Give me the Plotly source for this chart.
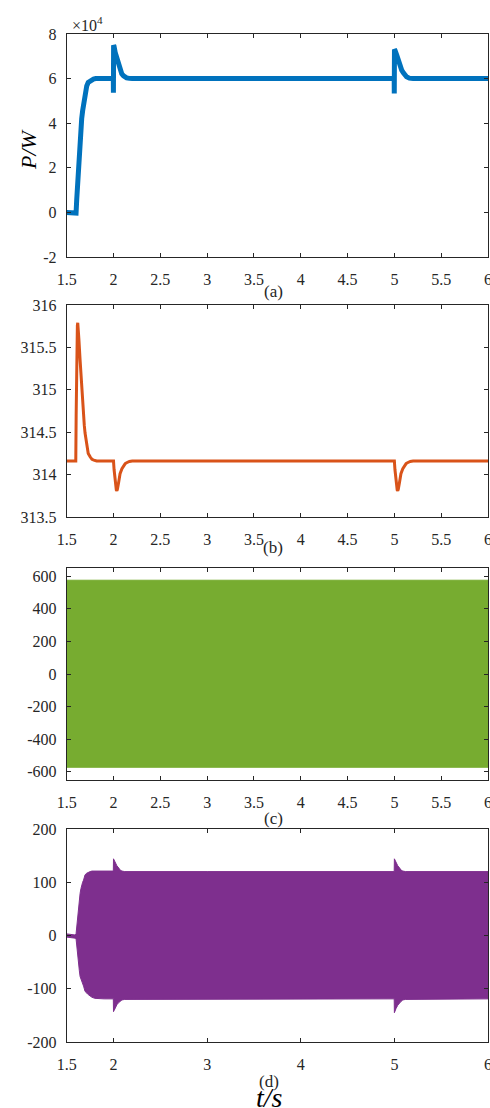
import plotly.graph_objects as go

# ---------------- data ----------------
# (a) active power P (W)
t_p = [1.5, 1.55, 1.6, 1.607, 1.615, 1.625, 1.635, 1.643, 1.652, 1.66, 1.67, 1.68, 1.688, 1.696, 1.705, 1.714,
       1.73, 1.75, 1.77, 1.786, 1.81, 1.9, 1.998, 1.999, 2.0, 2.001, 2.005, 2.018, 2.036, 2.055, 2.07, 2.088,
       2.107, 2.125, 2.14, 2.17, 2.2, 3.0, 4.0, 4.998, 4.999, 5.0, 5.001, 5.006, 5.025, 5.042, 5.06, 5.078,
       5.096, 5.113, 5.13, 5.16, 5.2, 5.5, 6.0]
p_w = [0, -200, -300, 5700, 12500, 19000, 25500, 31000, 37000, 42000, 45500, 48500, 51500, 53700, 55500, 56700,
       58300, 59000, 59600, 59800, 60000, 60000, 60000, 53700, 56000, 75000, 74600, 71700, 68700, 65700, 63500,
       62200, 61200, 60600, 60300, 60100, 60000, 60000, 60000, 60000, 53300, 56000, 73100, 72800, 70600, 68500,
       65300, 63800, 62600, 61700, 60800, 60200, 60000, 60000, 60000]

# (b) angular frequency (rad/s)
t_w = [1.5, 1.597, 1.601, 1.605, 1.609, 1.614, 1.618, 1.623, 1.63, 1.643, 1.652, 1.66, 1.67, 1.68, 1.688, 1.696,
       1.705, 1.714, 1.73, 1.75, 1.77, 1.79, 1.82, 1.9, 2.0, 2.006, 2.014, 2.022, 2.03, 2.036, 2.042, 2.055,
       2.07, 2.09, 2.107, 2.125, 2.14, 2.17, 2.2, 3.0, 4.0, 5.0, 5.006, 5.014, 5.022, 5.03, 5.036, 5.042,
       5.055, 5.07, 5.09, 5.107, 5.125, 5.14, 5.17, 5.2, 5.5, 6.0]
omega = [314.16, 314.16, 314.7, 315.25, 315.6, 315.76, 315.79, 315.74, 315.6, 315.35, 315.17, 315.0, 314.83,
         314.68, 314.58, 314.49, 314.41, 314.33, 314.25, 314.21, 314.18, 314.17, 314.16, 314.16, 314.16, 314.06,
         313.94, 313.86, 313.82, 313.81, 313.83, 313.91, 314.01, 314.07, 314.1, 314.13, 314.14, 314.155, 314.16,
         314.16, 314.16, 314.16, 314.06, 313.94, 313.86, 313.82, 313.81, 313.83, 313.91, 314.01, 314.07, 314.1,
         314.13, 314.14, 314.155, 314.16, 314.16, 314.16]

# (c) voltage envelope (V)
t_v = [1.5, 1.6, 2.0, 2.5, 3.0, 3.5, 4.0, 4.5, 5.0, 5.5, 6.0]
v_upper = [575, 575, 575, 575, 575, 575, 575, 575, 575, 575, 575]
v_lower = [-572, -575, -572, -572, -572, -572, -572, -572, -572, -572, -572]

# (d) current envelope (A)
t_i = [1.5, 1.55, 1.59, 1.6, 1.607, 1.615, 1.625, 1.635, 1.643, 1.652, 1.66, 1.67, 1.68, 1.696, 1.714, 1.73,
       1.75, 1.77, 1.8, 1.9, 1.998, 2.0, 2.006, 2.018, 2.036, 2.055, 2.07, 2.09, 2.12, 3.0, 4.0, 4.998, 5.0,
       5.006, 5.018, 5.036, 5.055, 5.07, 5.09, 5.12, 6.0]
i_upper = [3, 2, 1, 3, 17, 36, 54, 68, 79, 88, 95, 100, 104, 114, 117, 119, 120, 121, 121, 121, 121, 144, 142,
           136, 131, 127, 123, 121, 120, 120, 120, 120, 144, 142, 136, 131, 127, 123, 121, 120, 120]
i_lower = [-3, -4, -5, -6, -17, -35, -52, -66, -77, -82, -86, -91, -95, -105, -108, -111, -114, -116, -118, -119,
           -119, -143, -141, -135, -130, -126, -123, -121, -120, -119, -119, -119, -145, -143, -137, -131, -127,
           -124, -121, -120, -119]

# tick labels
xt_abc = [1.5, 2, 2.5, 3, 3.5, 4, 4.5, 5, 5.5, 6]
xt_abc_text = ["1.5", "2", "2.5", "3", "3.5", "4", "4.5", "5", "5.5", "6"]
xt_d = [1.5, 2, 3, 4, 5, 6]
xt_d_text = ["1.5", "2", "3", "4", "5", "6"]
yt_a = [-20000, 0, 20000, 40000, 60000, 80000]
yt_a_text = ["-2", "0", "2", "4", "6", "8"]
yt_b = [313.5, 314, 314.5, 315, 315.5, 316]
yt_b_text = ["313.5", "314", "314.5", "315", "315.5", "316"]
yt_c = [-600, -400, -200, 0, 200, 400, 600]
yt_c_text = ["-600", "-400", "-200", "0", "200", "400", "600"]
yt_d = [-200, -100, 0, 100, 200]
yt_d_text = ["-200", "-100", "0", "100", "200"]

# ---------------- figure ----------------
W, H = 490, 1108
FONT = "Liberation Serif"
TXT = "#262626"

def py(px):
    return 1 - px / H

xdom = [66.7 / W, 488 / W]
panels = [
    (34, 257),
    (305, 517),
    (568, 780),
    (829, 1042),
]

fig = go.Figure()

fig.add_trace(go.Scatter(x=t_p, y=p_w, mode="lines", line=dict(color="#0072BD", width=5),
                         xaxis="x", yaxis="y", showlegend=False))
fig.add_trace(go.Scatter(x=t_w, y=omega, mode="lines", line=dict(color="#D95319", width=3),
                         xaxis="x2", yaxis="y2", showlegend=False))
fig.add_trace(go.Scatter(x=t_v + t_v[::-1], y=v_upper + v_lower[::-1], mode="lines", fill="toself",
                         fillcolor="#77AC30", line=dict(color="#77AC30", width=1),
                         xaxis="x3", yaxis="y3", showlegend=False))
fig.add_trace(go.Scatter(x=t_i + t_i[::-1], y=i_upper + i_lower[::-1], mode="lines", fill="toself",
                         fillcolor="#7E2F8E", line=dict(color="#7E2F8E", width=1),
                         xaxis="x4", yaxis="y4", showlegend=False))

yranges = [[-20000, 80000], [313.5, 316], [-650, 650], [-200, 200]]
yticks = [(yt_a, yt_a_text), (yt_b, yt_b_text), (yt_c, yt_c_text), (yt_d, yt_d_text)]
xticks = [(xt_abc, xt_abc_text)] * 3 + [(xt_d, xt_d_text)]

fig.update_layout(template="none", width=W, height=H, margin=dict(l=0, r=0, t=0, b=0, pad=0),
                  paper_bgcolor="white", plot_bgcolor="white", showlegend=False,
                  font=dict(family=FONT, color=TXT, size=16))

for k in range(4):
    sfx = "" if k == 0 else str(k + 1)
    top, bot = panels[k]
    common = dict(showline=True, linecolor=TXT, linewidth=1, mirror="ticks", ticks="inside",
                  ticklen=4, tickcolor=TXT, tickwidth=1, showgrid=False, zeroline=False,
                  tickfont=dict(family=FONT, size=16, color=TXT), tickmode="array",
                  ticklabeloverflow="allow", automargin=False)
    fig.update_layout(**{
        "xaxis" + sfx: dict(common, domain=xdom, range=[1.5, 6],
                            tickvals=xticks[k][0], ticktext=xticks[k][1],
                            anchor="y" + sfx, ticklabelstandoff=8),
        "yaxis" + sfx: dict(common, domain=[py(bot), py(top)], range=yranges[k],
                            tickvals=yticks[k][0], ticktext=yticks[k][1],
                            anchor="x" + sfx, ticklabelstandoff=6),
    })

ann = []
def add_text(text, x, y, size, italic=False, angle=0, color=TXT):
    f = dict(family=FONT, size=size, color=color)
    if italic:
        f["style"] = "italic"
    ann.append(dict(text=text, x=x / W, y=py(y), xref="paper", yref="paper", showarrow=False,
                    xanchor="center", yanchor="middle", textangle=angle, font=f))

add_text("×10<sup>4</sup>", 87, 24, 16)
add_text("P/W", 28, 150, 22, italic=True, angle=-90, color="black")
add_text("(a)", 273, 292, 17)
add_text("(b)", 273, 548, 17)
add_text("(c)", 273, 818, 17)
add_text("(d)", 269, 1081, 17)
add_text("t/s", 269, 1097, 28, italic=True, color="black")
fig.update_layout(annotations=ann)

fig.write_html("out.html")
